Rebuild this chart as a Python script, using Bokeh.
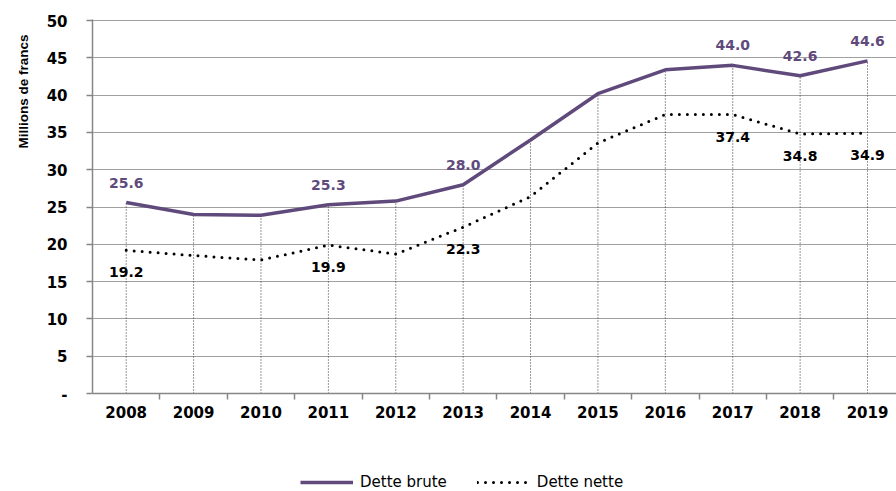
from bokeh.plotting import figure
from bokeh.layouts import column
from bokeh.models import Range1d, FixedTicker, Legend, LegendItem, ColumnDataSource, Title
from bokeh.core.properties import value
from bokeh.embed import file_html
from bokeh.resources import INLINE

years = ["2008", "2009", "2010", "2011", "2012", "2013",
         "2014", "2015", "2016", "2017", "2018", "2019"]
dette_brute = [25.6, 24.0, 23.9, 25.3, 25.8, 28.0, 34.0, 40.2, 43.4, 44.0, 42.6, 44.6]
dette_nette = [19.2, 18.5, 17.9, 19.9, 18.7, 22.3, 26.4, 33.6, 37.4, 37.4, 34.8, 34.9]
labelled_years = ["2008", "2011", "2013", "2017", "2018", "2019"]
y_ticks = [0, 5, 10, 15, 20, 25, 30, 35, 40, 45, 50]
y_tick_labels = ["-", "5", "10", "15", "20", "25", "30", "35", "40", "45", "50"]
series_names = ["Dette brute", "Dette nette"]

PURPLE = "#604A7B"
GRAY = "#868686"
FONT = "DejaVu Sans"

xs = [i + 0.5 for i in range(len(years))]
src = ColumnDataSource(dict(x=xs, year=years, brute=dette_brute, nette=dette_nette,
                            zero=[0] * len(years)))
lab_idx = [years.index(y) for y in labelled_years]
lab_src = ColumnDataSource(dict(
    x=[xs[i] for i in lab_idx],
    brute=[dette_brute[i] for i in lab_idx],
    nette=[dette_nette[i] for i in lab_idx],
    brute_txt=["%.1f" % dette_brute[i] for i in lab_idx],
    nette_txt=["%.1f" % dette_nette[i] for i in lab_idx],
))

p = figure(width=896, height=450, x_range=Range1d(0, 11.93), y_range=Range1d(0, 50.15),
           output_backend="svg", toolbar_location=None,
           min_border_left=92, min_border_right=0, min_border_top=19, min_border_bottom=57)
p.outline_line_color = None

# axes
p.xaxis.ticker = FixedTicker(ticks=xs, minor_ticks=[float(i) for i in range(1, 12)])
p.xaxis.major_label_overrides = {x: y for x, y in zip(xs, years)}
p.xaxis.major_tick_out = 0
p.xaxis.major_tick_in = 0
p.xaxis.minor_tick_out = 6
p.xaxis.minor_tick_in = 0
p.xaxis.minor_tick_line_color = GRAY
p.xaxis.minor_tick_line_width = 1.5
p.xaxis.major_label_standoff = 6

p.yaxis.ticker = FixedTicker(ticks=y_ticks, minor_ticks=[])
p.yaxis.major_label_overrides = {t: l for t, l in zip(y_ticks, y_tick_labels)}
p.yaxis.major_tick_out = 6
p.yaxis.major_tick_in = 0
p.yaxis.major_label_standoff = 19

for ax in (p.xaxis, p.yaxis):
    ax.axis_line_color = GRAY
    ax.axis_line_width = 1.5
    ax.major_tick_line_color = GRAY
    ax.major_tick_line_width = 1.5
    ax.major_label_text_font = FONT
    ax.major_label_text_font_style = "bold"
    ax.major_label_text_font_size = "15px"
    ax.major_label_text_color = "black"

p.xgrid.visible = False
p.ygrid.ticker = FixedTicker(ticks=y_ticks, minor_ticks=[])
p.ygrid.grid_line_color = "#a0a0a0"
p.ygrid.grid_line_width = 1

# drop lines
p.segment(x0="x", y0="zero", x1="x", y1="brute", source=src,
          line_color="#303030", line_width=1, line_dash="1 2")

p.line("x", "brute", source=src, line_color=PURPLE, line_width=3.5)
p.line("x", "nette", source=src, line_color="black", line_width=3,
       line_dash="0 8", line_cap="round")

p.text(x="x", y="brute", text="brute_txt", source=lab_src, y_offset=-20,
       text_align="center", text_baseline="middle", text_color=PURPLE,
       text_font=value(FONT), text_font_style="bold", text_font_size="14px")
p.text(x="x", y="nette", text="nette_txt", source=lab_src, y_offset=22,
       text_align="center", text_baseline="middle", text_color="black",
       text_font=value(FONT), text_font_style="bold", text_font_size="14px")

p.add_layout(Title(text="Millions de francs", align="right", offset=15, standoff=25,
                   text_font="Liberation Sans", text_font_style="bold",
                   text_font_size="13.5px", text_color="black"), "left")

# legend strip below the chart (dummy renderers lie outside its view)
lg = figure(width=896, height=41, x_range=Range1d(0, 1), y_range=Range1d(0, 1),
            output_backend="svg", toolbar_location=None,
            x_axis_location=None, y_axis_location=None,
            min_border_left=0, min_border_right=0, min_border_top=0, min_border_bottom=0)
lg.grid.visible = False
lg.outline_line_color = None
lb = lg.line(x=xs[:2], y=dette_brute[:2], line_color=PURPLE, line_width=3.5)
ln = lg.line(x=xs[:2], y=dette_nette[:2], line_color="black", line_width=3,
             line_dash="0 8", line_cap="round")
legend = Legend(items=[LegendItem(label=series_names[0], renderers=[lb]),
                       LegendItem(label=series_names[1], renderers=[ln])],
                location=(208, 0), orientation="horizontal",
                background_fill_alpha=0, border_line_color=None,
                glyph_width=53, glyph_height=16, label_height=16, label_standoff=7,
                spacing=30, padding=0, margin=0,
                label_text_font=FONT, label_text_font_size="15px",
                label_text_color="black")
lg.add_layout(legend)

layout = column(p, lg, spacing=0)
open("out.html", "w").write(file_html(layout, INLINE))
